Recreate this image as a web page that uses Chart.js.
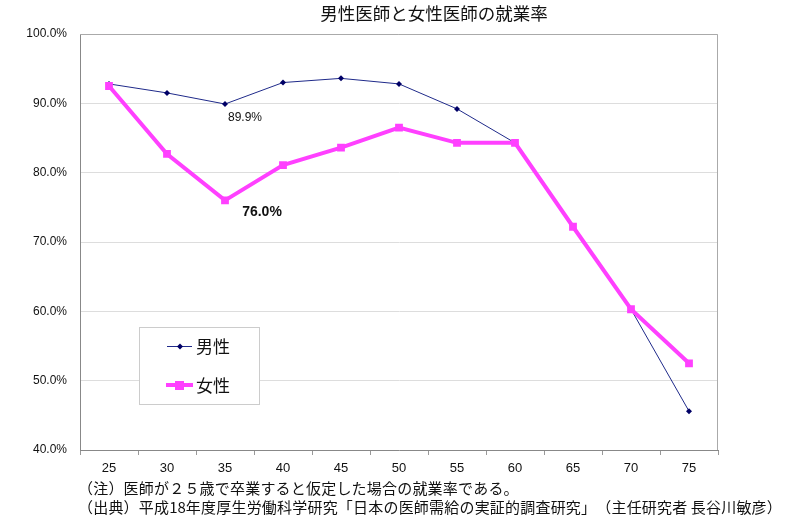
<!DOCTYPE html>
<html>
<head>
<meta charset="utf-8">
<script src="https://cdn.jsdelivr.net/npm/chart.js@4/dist/chart.umd.min.js"></script>
<style>
  body { margin: 0; background: #fff; }
  canvas { display: block; }
</style>
</head>
<body>
<canvas id="myChart" width="800" height="530"></canvas>
<script>
// data
var ages = ['25', '30', '35', '40', '45', '50', '55', '60', '65', '70', '75'];
var maleRate = [92.8, 91.5, 89.9, 93.0, 93.6, 92.8, 89.2, 84.3, 72.2, 60.3, 45.6];
var femaleRate = [92.5, 82.7, 76.0, 81.1, 83.6, 86.5, 84.3, 84.3, 72.2, 60.3, 52.5];
var seriesNames = ['男性', '女性'];
var titleText = '男性医師と女性医師の就業率';
var notes = [
    '（注）医師が２５歳で卒業すると仮定した場合の就業率である。',
    '（出典）平成18年度厚生労働科学研究「日本の医師需給の実証的調査研究」（主任研究者 長谷川敏彦）'
];

var FONT = "'Liberation Sans', Arial, 'Noto Sans CJK JP', sans-serif";
var JFONT = "'Noto Sans CJK JP', 'Liberation Sans', sans-serif";
var MALE_COLOR = '#1f2a8a';
var MALE_POINT = '#000066';
var FEMALE_COLOR = '#ff40ff';

// draw text one glyph at a time so full-width brackets keep their full width
function fixedText(c, str, x, y, step) {
    for (var i = 0; i < str.length; i++) {
        var ch = str[i];
        c.fillText(ch, x, y);
        x += ch.charCodeAt(0) < 128 ? c.measureText(ch).width : step;
    }
}

var extras = {
    id: 'extras',
    afterDatasetsDraw: function (chart) {
        var c = chart.ctx;
        var a = chart.chartArea;
        var x = chart.scales.x, y = chart.scales.y;
        c.save();
        // top and right frame
        c.strokeStyle = '#aaaaaa';
        c.lineWidth = 1;
        c.beginPath();
        c.moveTo(a.left, a.top + 0.5);
        c.lineTo(a.right - 0.5, a.top + 0.5);
        c.lineTo(a.right - 0.5, a.bottom);
        c.stroke();

        // value callouts at age 35
        c.fillStyle = '#111';
        c.textAlign = 'center';
        c.textBaseline = 'middle';
        c.font = '12px ' + FONT;
        c.fillText(maleRate[2].toFixed(1) + '%', x.getPixelForValue(2) + 20, y.getPixelForValue(maleRate[2]) + 14);
        c.font = 'bold 14px ' + FONT;
        c.fillText(femaleRate[2].toFixed(1) + '%', x.getPixelForValue(2) + 37, y.getPixelForValue(femaleRate[2]) + 12);

        // legend box
        c.fillStyle = '#fff';
        c.fillRect(139, 327, 120, 77);
        c.strokeStyle = '#cccccc';
        c.strokeRect(139.5, 327.5, 120, 77);
        c.strokeStyle = MALE_COLOR;
        c.lineWidth = 1;
        c.beginPath(); c.moveTo(167, 346.5); c.lineTo(192, 346.5); c.stroke();
        c.fillStyle = MALE_POINT;
        c.beginPath(); c.moveTo(180, 343.5); c.lineTo(183, 346.5); c.lineTo(180, 349.5); c.lineTo(177, 346.5); c.closePath(); c.fill();
        c.strokeStyle = FEMALE_COLOR;
        c.lineWidth = 4;
        c.beginPath(); c.moveTo(166, 385); c.lineTo(193, 385); c.stroke();
        c.fillStyle = FEMALE_COLOR;
        c.fillRect(175, 381, 9, 9);
        c.fillStyle = '#111';
        c.textAlign = 'left';
        c.font = '17px ' + JFONT;
        c.fillText(seriesNames[0], 196, 347);
        c.fillText(seriesNames[1], 196, 386);

        // title and notes
        c.textAlign = 'center';
        c.font = '17.5px ' + JFONT;
        c.fillText(titleText, 434, 13);
        c.textAlign = 'left';
        c.font = '15px ' + JFONT;
        fixedText(c, notes[0], 78, 488, 15.2);
        fixedText(c, notes[1], 78, 507, 15.2);
        c.restore();
    }
};

var ctx = document.getElementById('myChart').getContext('2d');
var myChart = new Chart(ctx, {
    type: 'line',
    data: {
        labels: ages,
        datasets: [{
            label: seriesNames[1],
            data: femaleRate,
            borderColor: FEMALE_COLOR,
            backgroundColor: FEMALE_COLOR,
            borderWidth: 4,
            pointStyle: 'rect',
            pointRadius: 5.5,
            pointBorderWidth: 0,
            tension: 0,
            order: 0
        },
        {
            label: seriesNames[0],
            data: maleRate,
            borderColor: MALE_COLOR,
            backgroundColor: MALE_POINT,
            borderWidth: 1,
            pointStyle: 'rectRot',
            pointRadius: 3,
            pointBorderWidth: 0,
            tension: 0,
            order: 1
        }]
    },
    options: {
        responsive: false,
        animation: false,
        layout: {
            padding: { left: 0, right: 82, top: 34, bottom: 0 }
        },
        plugins: {
            legend: { display: false },
            title: { display: false },
            tooltip: { enabled: false }
        },
        scales: {
            x: {
                offset: true,
                grid: {
                    offset: true,
                    drawOnChartArea: false,
                    drawTicks: true,
                    tickLength: 5,
                    color: '#999999'
                },
                border: { color: '#888888', width: 1 },
                ticks: {
                    color: '#111',
                    font: { family: FONT, size: 13 },
                    padding: 6
                },
                afterFit: function (s) { s.height = 80; }
            },
            y: {
                min: 40,
                max: 100,
                grid: {
                    color: '#dddddd',
                    drawTicks: false
                },
                border: { color: '#888888', width: 1 },
                ticks: {
                    stepSize: 10,
                    color: '#111',
                    padding: 13,
                    font: { family: FONT, size: 12 },
                    callback: function (v) { return v.toFixed(1) + '%'; }
                },
                afterFit: function (s) { s.width = 80; }
            }
        }
    },
    plugins: [extras]
});
</script>
</body>
</html>
